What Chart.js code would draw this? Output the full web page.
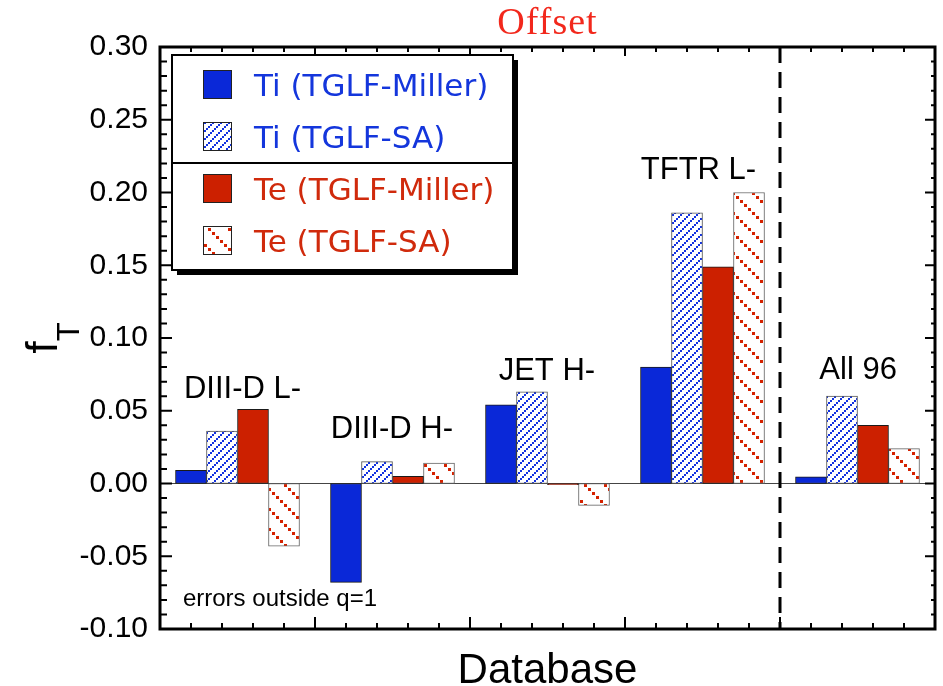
<!DOCTYPE html>
<html>
<head>
<meta charset="utf-8">
<title>Offset</title>
<script src="https://cdn.jsdelivr.net/npm/chart.js@4.4.1/dist/chart.umd.min.js"></script>
<style>
  html, body { margin: 0; padding: 0; background: #fff; }
  #wrap { width: 943px; height: 686px; }
</style>
</head>
<body>
<div id="wrap"><canvas id="offsetChart" width="943" height="686"></canvas></div>
<script>
// f_T offset per database
const databases = ['DIII-D L-', 'DIII-D H-', 'JET H-', 'TFTR L-', 'All 96'];
const seriesNames = ['Ti (TGLF-Miller)', 'Ti (TGLF-SA)', 'Te (TGLF-Miller)', 'Te (TGLF-SA)'];
const tiMiller = [0.009, -0.068, 0.054, 0.080, 0.0045];
const tiSA = [0.036, 0.015, 0.063, 0.186, 0.060];
const teMiller = [0.051, 0.005, -0.0008, 0.149, 0.040];
const teSA = [-0.043, 0.014, -0.015, 0.200, 0.024];
const yMin = -0.10, yMax = 0.30, yStep = 0.05, yMinorStep = 0.01;
const noteText = 'errors outside q=1';

// where the group labels sit, in axis units (centre x, baseline y)
const labelSpots = [
    { x: 2.66, y: 0.059 },
    { x: 7.48, y: 0.0316 },
    { x: 12.48, y: 0.0708 },
    { x: 17.37, y: 0.209 },
    { x: 22.52, y: 0.0715 }
];
const noteSpot = { x: 0.74, y: -0.0845 };

const BLUE = '#0a28d8';
const RED = '#cc2000';
const SANS = '"Liberation Sans", Arial, Helvetica, sans-serif';

const canvas = document.getElementById('offsetChart');
const ctx = canvas.getContext('2d');

// dotted diagonal hatch, dir 1 = '/', dir -1 = '\'
function makeHatch(color, size, step, dot, dir) {
    const c = document.createElement('canvas');
    c.width = c.height = size;
    const g = c.getContext('2d');
    g.fillStyle = '#fff';
    g.fillRect(0, 0, size, size);
    g.fillStyle = color;
    for (let i = 0; i < size; i += step) {
        const y = dir > 0 ? size - dot - i : i;
        g.fillRect(i, y, dot, dot);
    }
    return ctx.createPattern(c, 'repeat');
}

const slotsPerGroup = seriesNames.length + 1;
const xMax = databases.length * slotsPerGroup;

const seriesStyle = [
    { values: tiMiller, fill: BLUE, border: '#1a1a1a', text: '#1436dc' },
    { values: tiSA, fill: makeHatch('#1232e0', 8, 2, 2, 1), border: '#555', text: '#1436dc' },
    { values: teMiller, fill: RED, border: '#1a1a1a', text: '#d02a0c' },
    { values: teSA, fill: makeHatch('#d42200', 20, 4, 3, -1), border: '#666', text: '#d02a0c' }
];

const datasets = seriesStyle.map((s, i) => ({
    label: seriesNames[i],
    data: s.values.map((v, g) => ({ x: g * slotsPerGroup + i + 1, y: v })),
    backgroundColor: s.fill,
    borderColor: s.border,
    textColor: s.text
}));

const figureDecor = {
    id: 'figureDecor',
    beforeDatasetsDraw(chart) {
        const { ctx, chartArea: a, scales: { y } } = chart;
        const y0 = y.getPixelForValue(0);
        ctx.save();
        ctx.strokeStyle = '#444';
        ctx.lineWidth = 1;
        ctx.beginPath();
        ctx.moveTo(a.left, y0);
        ctx.lineTo(a.right, y0);
        ctx.stroke();
        ctx.restore();
    },
    afterDatasetsDraw(chart) {
        const { ctx, chartArea: a, scales: { x, y } } = chart;
        ctx.save();

        // dashed separator before the "All" group
        const xs = x.getPixelForValue((databases.length - 1) * slotsPerGroup);
        ctx.strokeStyle = '#000';
        ctx.lineWidth = 3;
        ctx.setLineDash([16, 9]);
        ctx.beginPath();
        ctx.moveTo(xs, a.top);
        ctx.lineTo(xs, a.bottom);
        ctx.stroke();
        ctx.setLineDash([]);

        // inward ticks on all four sides
        ctx.lineWidth = 2;
        ctx.beginPath();
        for (let k = 0; k <= xMax; k++) {
            const px = x.getPixelForValue(k);
            const major = k % 5 === 0;
            ctx.moveTo(px, a.bottom);
            ctx.lineTo(px, a.bottom - (major ? 12 : 6));
            ctx.moveTo(px, a.top);
            ctx.lineTo(px, a.top + (major ? 9 : 5));
        }
        const nMinor = Math.round((yMax - yMin) / yMinorStep);
        const perMajor = Math.round(yStep / yMinorStep);
        for (let k = 0; k <= nMinor; k++) {
            const py = y.getPixelForValue(yMin + k * yMinorStep);
            const major = k % perMajor === 0;
            ctx.moveTo(a.left, py);
            ctx.lineTo(a.left + (major ? 12 : 7), py);
            ctx.moveTo(a.right, py);
            ctx.lineTo(a.right - (major ? 10 : 4), py);
        }
        ctx.stroke();

        // frame
        ctx.lineWidth = 3;
        ctx.strokeRect(a.left, a.top, a.right - a.left, a.bottom - a.top);

        // group labels and note
        ctx.fillStyle = '#000';
        ctx.textBaseline = 'alphabetic';
        ctx.textAlign = 'center';
        ctx.font = '31px ' + SANS;
        databases.forEach((name, i) => {
            ctx.fillText(name, x.getPixelForValue(labelSpots[i].x), y.getPixelForValue(labelSpots[i].y));
        });
        ctx.textAlign = 'left';
        ctx.font = '24px ' + SANS;
        ctx.fillText(noteText, x.getPixelForValue(noteSpot.x), y.getPixelForValue(noteSpot.y));

        // title
        ctx.textAlign = 'center';
        ctx.fillStyle = '#f2281c';
        ctx.font = '38px "Liberation Serif", "Times New Roman", serif';
        ctx.letterSpacing = '1px';
        ctx.fillText('Offset', (a.left + a.right) / 2, a.top - 13);
        ctx.letterSpacing = '0px';

        // x axis title
        ctx.fillStyle = '#000';
        ctx.font = '42px ' + SANS;
        ctx.fillText('Database', (a.left + a.right) / 2, a.bottom + 54);

        // y axis title: f with subscript T, rotated
        ctx.textAlign = 'left';
        ctx.font = '44px ' + SANS;
        const fW = ctx.measureText('f').width;
        ctx.font = '31px ' + SANS;
        const tW = ctx.measureText('T').width;
        const midY = (a.top + a.bottom) / 2;
        ctx.save();
        ctx.translate(a.left - 103, midY + (fW + tW) / 2);
        ctx.rotate(-Math.PI / 2);
        ctx.font = '44px ' + SANS;
        ctx.fillText('f', 0, 0);
        ctx.font = '31px ' + SANS;
        ctx.fillText('T', fW, 22);
        ctx.restore();

        // legend box with shadow and divider between Ti and Te
        const lx = a.left + 12, ly = a.top + 8, lw = 341, lh = 215;
        ctx.fillStyle = '#000';
        ctx.fillRect(lx + 5, ly + 5, lw, lh);
        ctx.fillStyle = '#fff';
        ctx.fillRect(lx, ly, lw, lh);
        ctx.strokeStyle = '#000';
        ctx.lineWidth = 2;
        ctx.strokeRect(lx, ly, lw, lh);
        ctx.beginPath();
        ctx.moveTo(lx, ly + 108);
        ctx.lineTo(lx + lw, ly + 108);
        ctx.stroke();

        ctx.font = '31px "DejaVu Sans", Verdana, sans-serif';
        chart.data.datasets.forEach((ds, i) => {
            const rowY = ly + 29 + i * 52;
            ctx.fillStyle = ds.backgroundColor;
            ctx.fillRect(lx + 31, rowY - 14, 28, 28);
            ctx.lineWidth = 1;
            ctx.strokeStyle = '#222';
            ctx.strokeRect(lx + 31.5, rowY - 13.5, 28, 28);
            ctx.fillStyle = ds.textColor;
            ctx.fillText(ds.label, lx + 82, rowY + 12);
        });

        ctx.restore();
    }
};

new Chart(ctx, {
    type: 'bar',
    data: { datasets },
    options: {
        responsive: false,
        animation: false,
        devicePixelRatio: 1,
        layout: { padding: { left: 0, top: 47, right: 8, bottom: 0 } },
        datasets: {
            bar: {
                grouped: false,
                categoryPercentage: 1,
                barPercentage: 1,
                borderWidth: 1,
                borderSkipped: false
            }
        },
        plugins: {
            legend: { display: false },
            title: { display: false },
            tooltip: { enabled: false }
        },
        scales: {
            x: {
                type: 'linear',
                min: 0,
                max: xMax,
                offset: false,
                ticks: { display: false, stepSize: 5 },
                grid: { display: false, drawTicks: false },
                border: { display: false },
                afterFit: (s) => { s.height = 57; }
            },
            y: {
                min: yMin,
                max: yMax,
                ticks: {
                    stepSize: yStep,
                    padding: 12,
                    color: '#000',
                    font: { family: SANS, size: 30 },
                    callback: (v) => (Math.abs(v) < 1e-9 ? 0 : v).toFixed(2)
                },
                grid: { display: false, drawTicks: false },
                border: { display: false },
                afterFit: (s) => { s.width = 160; }
            }
        }
    },
    plugins: [figureDecor]
});
</script>
</body>
</html>
